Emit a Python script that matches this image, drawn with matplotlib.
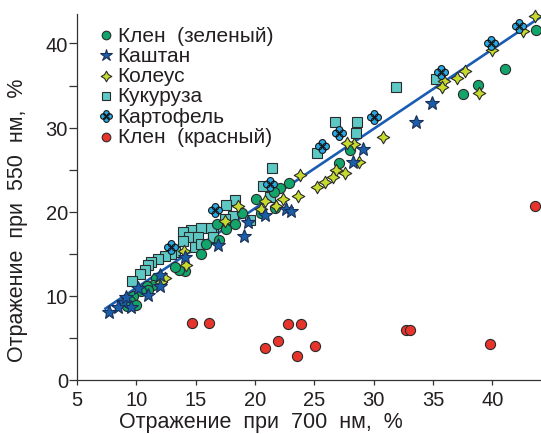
import numpy as np
import matplotlib
matplotlib.use("Agg")
import matplotlib.pyplot as plt
from matplotlib.path import Path
from matplotlib.lines import Line2D

plt.rcParams['font.family'] = ['Liberation Sans', 'DejaVu Sans']

# ---------------- data ----------------
labels = ["Клен  (зеленый)", "Каштан", "Колеус", "Кукуруза", "Картофель", "Клен  (красный)"]

maple_green_x = [43.70, 41.03, 38.78, 37.52, 27.97, 27.07, 22.83, 22.08, 21.57, 20.05, 21.66, 20.48,
                 18.88, 18.29, 16.81, 17.59, 16.96, 15.90, 15.48, 14.07, 13.57, 13.23, 11.69, 11.40,
                 10.87, 10.98, 10.43, 9.72, 9.44, 9.95, 9.21]
maple_green_y = [41.58, 36.91, 35.01, 33.98, 27.36, 25.84, 23.38, 22.87, 22.35, 21.48, 20.50, 19.82,
                 19.80, 18.60, 18.52, 17.92, 16.65, 16.14, 14.96, 12.94, 13.12, 13.38, 12.07, 11.28,
                 11.22, 10.72, 10.60, 9.97, 9.41, 8.94, 8.82]

chestnut_x = [34.94, 33.59, 29.07, 28.25, 22.64, 23.00, 20.81, 19.38, 19.07, 16.88, 14.07, 11.97,
              11.97, 10.14, 10.98, 9.58, 8.88, 8.45, 7.71, 9.16]
chestnut_y = [32.88, 30.68, 27.42, 25.88, 20.30, 20.06, 19.58, 18.72, 17.09, 16.08, 14.56, 12.46,
              11.16, 10.92, 10.15, 8.63, 9.22, 8.63, 8.11, 9.82]

coleus_x = [43.56, 42.57, 39.99, 37.66, 37.01, 35.89, 35.78, 38.87, 30.75, 28.31, 27.75, 28.76,
            27.55, 26.85, 26.57, 25.91, 25.24, 23.82, 23.64, 22.35, 20.81, 21.80, 20.53, 18.58,
            17.44, 14.01, 14.16, 12.43, 12.11]
coleus_y = [43.30, 41.46, 39.21, 36.68, 35.93, 35.53, 34.78, 34.07, 28.84, 28.01, 28.13, 25.88,
            24.65, 24.99, 24.10, 23.50, 22.97, 24.33, 21.90, 21.48, 21.28, 20.69, 20.30, 20.69,
            18.87, 15.37, 13.71, 12.07, 11.67]

corn_x = [35.28, 31.85, 26.71, 28.56, 28.48, 25.24, 21.46, 20.67, 21.28, 18.29, 17.59, 18.12,
          19.55, 16.46, 16.32, 15.48, 14.64, 13.93, 14.44, 15.19, 13.93, 14.92, 15.48, 13.23,
          12.89, 12.39, 11.80, 11.27, 10.98, 10.70, 10.28, 9.61, 17.44, 16.43]
corn_y = [35.81, 34.81, 30.66, 30.68, 29.40, 26.94, 25.25, 23.09, 21.78, 21.37, 20.83, 19.50,
          18.99, 17.60, 18.12, 18.01, 17.80, 17.57, 17.01, 16.94, 16.53, 15.85, 16.14, 15.16,
          14.96, 14.75, 14.42, 14.04, 13.65, 13.06, 12.58, 11.79, 19.11, 16.97]

potato_x = [42.24, 39.91, 35.70, 30.05, 27.07, 25.67, 21.28, 16.67, 12.89]
potato_y = [42.05, 40.08, 36.59, 31.22, 29.40, 27.77, 23.26, 20.26, 15.85]

maple_red_x = [14.72, 16.12, 22.78, 23.87, 20.84, 21.90, 23.50, 25.05, 32.72, 33.03, 39.80, 43.56]
maple_red_y = [6.73, 6.73, 6.60, 6.60, 3.76, 4.60, 2.90, 4.00, 6.00, 5.93, 4.30, 20.65]

fit_slope = 0.945
fit_intercept = 1.5
fit_x_range = [7.4, 44.2]

x_ticks = [5, 10, 15, 20, 25, 30, 35, 40]
y_ticks = [0, 10, 20, 30, 40]
x_label = "Отражение  при  700  нм,  %"
y_label = "Отражение  при  550  нм,  %"

# ---------------- markers ----------------
k = 0.36
diamond_path = Path([(0, 1), (k, k), (1, 0), (k, -k), (0, -1), (-k, -k), (-1, 0), (-k, k), (0, 1)],
                    [Path.MOVETO] + [Path.LINETO] * 7 + [Path.CLOSEPOLY])
circ = Path.unit_circle()
clover_parts = []
for dx, dy in [(0.55, 0), (-0.55, 0), (0, 0.55), (0, -0.55)]:
    clover_parts.append(Path(circ.vertices * 0.5 + np.array([dx, dy]), circ.codes))
clover_path = Path.make_compound_path(*clover_parts)

edge = "#2b2b2b"
styles = [
    dict(marker='o', ms=7.3, mfc="#12a46b", mec=edge, mew=0.8),
    dict(marker='*', ms=10.5, mfc="#1a5ea9", mec="#1a2f55", mew=0.8),
    dict(marker=diamond_path, ms=9.0, mfc="#c7db2f", mec=edge, mew=0.8),
    dict(marker='s', ms=7.3, mfc="#5ec8c4", mec=edge, mew=0.8),
    dict(marker=clover_path, ms=10.0, mfc="#27a9e6", mec="#1a1a1a", mew=0.8),
    dict(marker='o', ms=7.3, mfc="#e8352c", mec=edge, mew=0.8),
]

# ---------------- figure ----------------
fig = plt.figure(figsize=(5.41, 4.35), dpi=100)
ax = fig.add_axes([77 / 541, 54 / 435, 464 / 541, 366 / 435])

fx = np.array(fit_x_range)
ax.plot(fx, fit_intercept + fit_slope * fx, color="#1a5cb2", lw=1.9, zorder=2)

series = [
    (corn_x, corn_y, 3),
    (maple_green_x, maple_green_y, 0),
    (coleus_x, coleus_y, 2),
    (chestnut_x, chestnut_y, 1),
    (potato_x, potato_y, 4),
    (maple_red_x, maple_red_y, 5),
]
for i, (xs, ys, si) in enumerate(series):
    ax.plot(xs, ys, linestyle='none', zorder=3 + i, clip_on=False, **styles[si])

ax.set_xlim(5, 44.1)
ax.set_ylim(0, 43.5)
ax.set_xticks(x_ticks)
ax.set_yticks(y_ticks)
ax.set_yticks([5, 15, 25, 35], minor=True)

for s in ['top', 'right']:
    ax.spines[s].set_visible(False)
for s in ['left', 'bottom']:
    ax.spines[s].set_linewidth(0.9)
    ax.spines[s].set_color("#333333")

txt = "#231f20"
ax.tick_params(axis='x', direction='out', length=3.5, width=0.9, color="#333333",
               labelsize=14.5, labelcolor=txt, pad=4)
ax.tick_params(axis='y', which='both', direction='out', length=5.5, width=0.9, color="#333333",
               labelsize=14.5, labelcolor=txt, pad=1)

ax.set_xlabel(x_label, fontsize=15.5, color=txt)
ax.set_ylabel(y_label, fontsize=15.5, color=txt)
ax.xaxis.set_label_coords(0.397, -0.085)
ax.yaxis.set_label_coords(-0.106, 0.44)

# legend (manual, tight rows)
mx = (106 - 77) / 464
tx = (117.5 - 77) / 464
y0 = (381 - 36) / 366
dy = 20.3 / 366
for i, lab in enumerate(labels):
    yy = y0 - i * dy
    ax.add_line(Line2D([mx], [yy], transform=ax.transAxes, linestyle='none',
                       clip_on=False, zorder=20, **dict(styles[i], ms=styles[i]['ms'] * 0.85)))
    ax.text(tx, yy, lab, transform=ax.transAxes, fontsize=15, color=txt,
            va='center', ha='left', zorder=20)

fig.savefig("out.png", dpi=100)
